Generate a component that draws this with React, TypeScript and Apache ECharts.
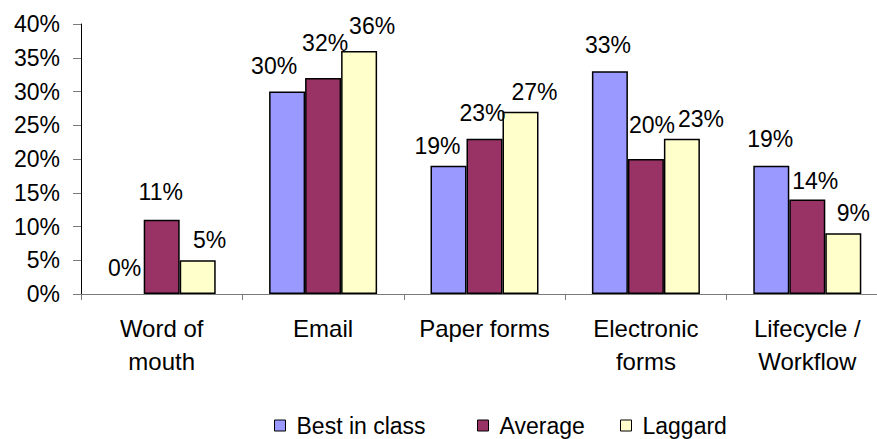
import { useEffect, useRef } from "react";
import * as echarts from "echarts";

// Chart data
const categories = [
  "Word of\nmouth",
  "Email",
  "Paper forms",
  "Electronic\nforms",
  "Lifecycle /\nWorkflow",
];
const seriesNames = ["Best in class", "Average", "Laggard"];
const bestInClass = [0, 30, 19, 33, 19];
const average = [11, 32, 23, 20, 14];
const laggard = [5, 36, 27, 23, 9];
const seriesColors = ["#9999FF", "#993366", "#FFFFCC"];

// Value-label placement per bar: [horizontal shift, gap above bar top]
const labelPlaceBest = [[-1, 19], [-13, 18], [-11, 12], [-2, 19], [-1, 19]];
const labelPlaceAverage = [[-1, 20], [2, 28], [-2, 18], [6, 27], [8, 11]];
const labelPlaceLaggard = [[12, 13], [13, 18], [14, 12], [19, 12], [10, 13]];

// Left edge of each legend entry
const legendLefts = [274, 477, 620];

const FONT = "'Liberation Sans', Arial, sans-serif";
const BASELINE_PAD = 4;

function buildSeries(name: string, values: number[], places: number[][], color: string) {
  return {
    name,
    type: "bar",
    barWidth: 36,
    barGap: "0%",
    itemStyle: { color, borderColor: "#000", borderWidth: 1.5 },
    label: {
      show: true,
      position: "top",
      distance: 0,
      formatter: "{c}%",
      color: "#000",
      fontSize: 23,
      fontFamily: FONT,
    },
    data: values.map((v, i) => ({
      value: v,
      // a zero-height bar is not outlined
      itemStyle: v === 0 ? { borderWidth: 0 } : undefined,
      label: { offset: [places[i][0], -(places[i][1] - BASELINE_PAD)] },
    })),
  };
}

export default function App() {
  const ref = useRef<HTMLDivElement>(null);

  useEffect(() => {
    if (!ref.current) return;
    const chart = echarts.init(ref.current, null, { renderer: "svg" });
    chart.setOption({
      animation: false,
      backgroundColor: "#fff",
      textStyle: { fontFamily: FONT },
      grid: {
        left: 81,
        top: 24,
        width: 807,
        height: 270,
        containLabel: false,
        outerBoundsMode: "none",
      },
      legend: seriesNames.map((name, i) => ({
        left: legendLefts[i],
        top: 414,
        padding: 0,
        icon: "rect",
        itemWidth: 11,
        itemHeight: 11,
        itemStyle: { borderColor: "#000", borderWidth: 1 },
        textStyle: {
          fontSize: 23,
          color: "#000",
          fontFamily: FONT,
          padding: [0, 0, 0, 6],
        },
        data: [name],
      })),
      xAxis: {
        type: "category",
        data: categories,
        axisLine: { lineStyle: { color: "#7a7a7a", width: 1 } },
        axisTick: { show: true, length: 6, lineStyle: { color: "#7a7a7a" } },
        axisLabel: {
          color: "#000",
          fontSize: 24,
          lineHeight: 33,
          margin: 18,
          interval: 0,
          fontFamily: FONT,
        },
      },
      yAxis: {
        type: "value",
        min: 0,
        max: 40,
        interval: 5,
        splitLine: { show: false },
        axisLine: { show: true, lineStyle: { color: "#000", width: 1 } },
        axisTick: { show: true, length: 8, lineStyle: { color: "#7a7a7a" } },
        axisLabel: {
          formatter: "{value}%",
          color: "#000",
          fontSize: 23,
          margin: 21,
          fontFamily: FONT,
        },
      },
      series: [
        buildSeries(seriesNames[0], bestInClass, labelPlaceBest, seriesColors[0]),
        buildSeries(seriesNames[1], average, labelPlaceAverage, seriesColors[1]),
        buildSeries(seriesNames[2], laggard, labelPlaceLaggard, seriesColors[2]),
      ],
    });
    return () => chart.dispose();
  }, []);

  return (
    <div
      ref={ref}
      style={{ position: "fixed", left: 0, top: 0, width: 877, height: 439 }}
    />
  );
}
